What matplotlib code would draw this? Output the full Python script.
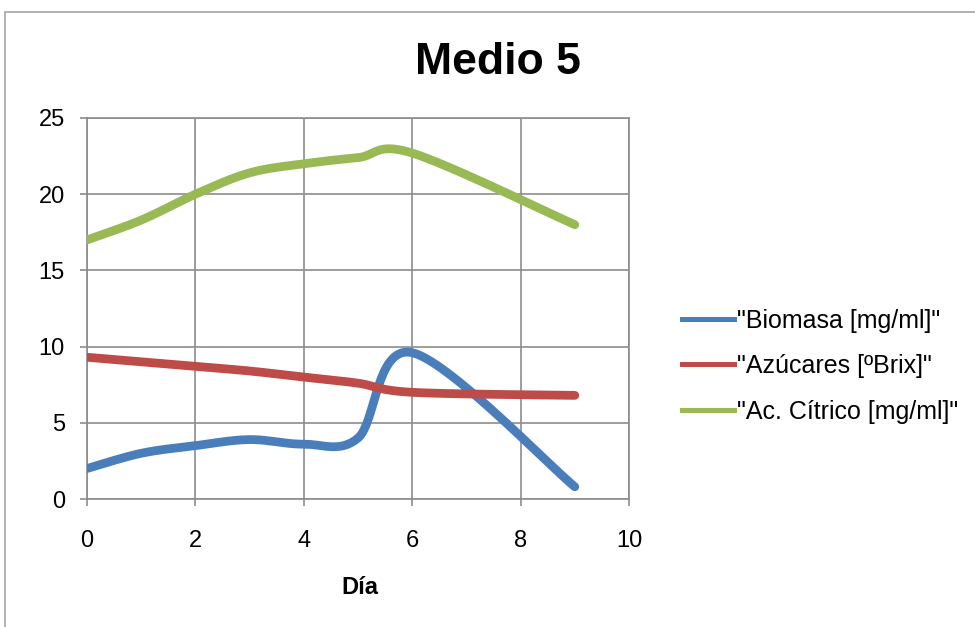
import numpy as np
import matplotlib
matplotlib.use("Agg")
import matplotlib.pyplot as plt
from matplotlib.patches import Rectangle
from matplotlib.lines import Line2D

plt.rcParams["font.family"] = ["Liberation Sans", "DejaVu Sans"]

# datos
dias = [0, 1, 2, 3, 4, 5, 6, 9]
biomasa = [2.0, 3.0, 3.5, 3.9, 3.6, 4.0, 9.6, 0.8]
azucares = [9.3, 9.0, 8.7, 8.4, 8.0, 7.6, 7.0, 6.8]
citrico = [17.0, 18.3, 20.0, 21.4, 22.0, 22.4, 22.7, 18.0]

etiquetas = ['"Biomasa [mg/ml]"', '"Azúcares [ºBrix]"', '"Ac. Cítrico [mg/ml]"']
colores = ["#4a7ebb", "#be4b48", "#98b954"]


def suavizar(x, y, n=40):
    """curva suavizada estilo Excel (Bezier con tangentes Catmull-Rom)"""
    p = np.column_stack([x, y]).astype(float)
    ext = np.vstack([p[0], p, p[-1]])
    out = []
    for i in range(len(p) - 1):
        p0, p3 = p[i], p[i + 1]
        c1 = p0 + (ext[i + 2] - ext[i]) / 6
        c2 = p3 - (ext[i + 3] - ext[i + 1]) / 6
        t = np.linspace(0, 1, n)[:, None]
        seg = ((1 - t) ** 3) * p0 + 3 * ((1 - t) ** 2) * t * c1 \
            + 3 * (1 - t) * t ** 2 * c2 + t ** 3 * p3
        out.append(seg if i == 0 else seg[1:])
    s = np.vstack(out)
    return s[:, 0], s[:, 1]


fig = plt.figure(figsize=(9.75, 6.27), dpi=100)
fig.patches.append(Rectangle((5 / 975, -0.05), 1.0, 1 - 12 / 627 + 0.05,
                             transform=fig.transFigure, fill=False,
                             edgecolor="#a6a6a6", linewidth=1.2))

ax = fig.add_axes([87 / 975, 1 - 499 / 627, 542 / 975, 381 / 627])

for serie, col, lab in zip([biomasa, azucares, citrico], colores, etiquetas):
    xs, ys = suavizar(dias, serie)
    ax.plot(xs, ys, color=col, linewidth=6.3, solid_capstyle="round",
            label=lab, zorder=3)

ax.set_xlim(0, 10)
ax.set_ylim(0, 25)
ax.set_xticks(range(0, 11, 2))
ax.set_yticks(range(0, 26, 5))
ax.grid(True, color="#8c8c8c", linewidth=1.2)
for sp in ax.spines.values():
    sp.set_color("#8c8c8c")
    sp.set_linewidth(1.2)
ax.tick_params(direction="out", length=5, width=1.2, color="#8c8c8c",
               labelsize=17)
ax.tick_params(axis="x", pad=17)
ax.tick_params(axis="y", pad=11)

fig.text(360 / 975, 1 - 588 / 627, "Día", fontsize=17, fontweight="bold",
         ha="center", va="center")
fig.text(498 / 975, 1 - 62 / 627, "Medio 5", fontsize=32, fontweight="bold",
         ha="center", va="center")

handles = [Line2D([], [], color=c, linewidth=3.6) for c in colores]
fig.legend(handles, etiquetas, loc="center left",
           bbox_to_anchor=(682 / 975, 1 - 366 / 627), frameon=False,
           fontsize=18, handlelength=2.08, handletextpad=0.12,
           labelspacing=0.86, borderpad=0, borderaxespad=0)

fig.savefig("out.png", dpi=100)
